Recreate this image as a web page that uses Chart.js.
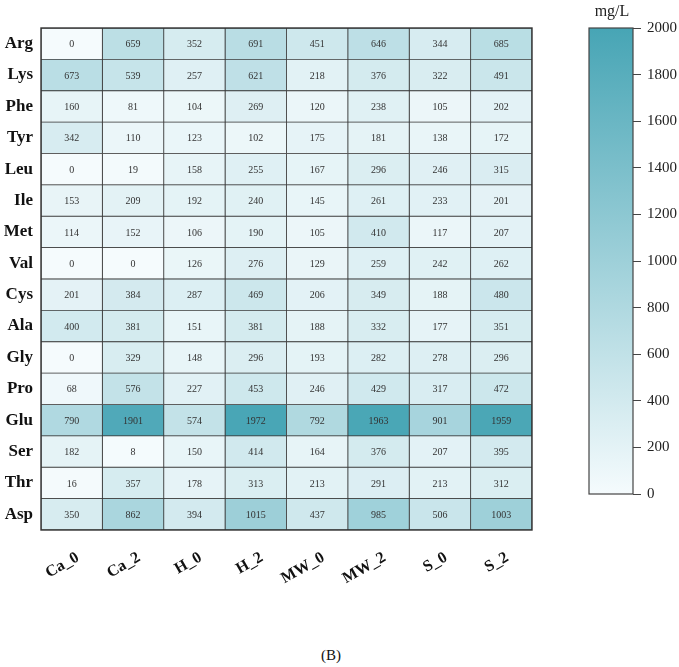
<!DOCTYPE html>
<html>
<head>
<meta charset="utf-8">
<script src="https://cdn.jsdelivr.net/npm/chart.js@4"></script>
<style>
  body { margin: 0; background: #fff; width: 679px; height: 667px; position: relative; overflow: hidden; }
  #heat { position: absolute; left: 0; top: 0; }
  #bar { position: absolute; left: 560px; top: 0; }
  .caption { position: absolute; top: 647px; left: 301px; width: 60px; text-align: center;
    font-family: "Liberation Serif", "DejaVu Serif", serif; font-size: 15px; color: #111; }
</style>
</head>
<body>
<canvas id="heat" width="560" height="600"></canvas>
<canvas id="bar" width="119" height="520"></canvas>
<div class="caption">(B)</div>
<script>
const samples = ["Ca_0", "Ca_2", "H_0", "H_2", "MW_0", "MW_2", "S_0", "S_2"];
const aminoAcids = ["Arg", "Lys", "Phe", "Tyr", "Leu", "Ile", "Met", "Val",
  "Cys", "Ala", "Gly", "Pro", "Glu", "Ser", "Thr", "Asp"];

// one array per sample, in aminoAcids order
const Ca_0 = [0, 673, 160, 342, 0, 153, 114, 0, 201, 400, 0, 68, 790, 182, 16, 350];
const Ca_2 = [659, 539, 81, 110, 19, 209, 152, 0, 384, 381, 329, 576, 1901, 8, 357, 862];
const H_0 = [352, 257, 104, 123, 158, 192, 106, 126, 287, 151, 148, 227, 574, 150, 178, 394];
const H_2 = [691, 621, 269, 102, 255, 240, 190, 276, 469, 381, 296, 453, 1972, 414, 313, 1015];
const MW_0 = [451, 218, 120, 175, 167, 145, 105, 129, 206, 188, 193, 246, 792, 164, 213, 437];
const MW_2 = [646, 376, 238, 181, 296, 261, 410, 259, 349, 332, 282, 429, 1963, 376, 291, 985];
const S_0 = [344, 322, 105, 138, 246, 233, 117, 242, 188, 177, 278, 317, 901, 207, 213, 506];
const S_2 = [685, 491, 202, 172, 315, 201, 207, 262, 480, 351, 296, 472, 1959, 395, 312, 1003];

const columns = [Ca_0, Ca_2, H_0, H_2, MW_0, MW_2, S_0, S_2];
const scaleMin = 0;
const scaleMax = 2000;
const colorbarTicks = [0, 200, 400, 600, 800, 1000, 1200, 1400, 1600, 1800, 2000];

const lowColor = [245, 251, 253];
const highColor = [71, 165, 181];

function colorFor(v) {
  let t = (v - scaleMin) / (scaleMax - scaleMin);
  t = Math.max(0, Math.min(1, t));
  let c = lowColor.map((lo, i) => Math.round(lo + (highColor[i] - lo) * t));
  return `rgb(${c[0]},${c[1]},${c[2]})`;
}

const serif = "'Liberation Serif', 'DejaVu Serif', serif";

// Heatmap: floating horizontal bars, one dataset per sample column
const datasets = columns.map((col, i) => ({
  label: samples[i],
  data: col.map(() => [i, i + 1]),
  values: col,
  backgroundColor: col.map(colorFor),
  borderColor: "#3a3a3a",
  borderWidth: 0.8,
  borderSkipped: false,
  grouped: false,
  barPercentage: 1,
  categoryPercentage: 1
}));

const cellText = {
  id: "cellText",
  afterDatasetsDraw(chart) {
    const ctx = chart.ctx;
    ctx.save();
    ctx.font = "10px " + serif;
    ctx.fillStyle = "#333";
    ctx.textAlign = "center";
    ctx.textBaseline = "middle";
    chart.data.datasets.forEach((ds, di) => {
      chart.getDatasetMeta(di).data.forEach((bar, j) => {
        ctx.fillText(ds.values[j], (bar.x + bar.base) / 2, bar.y + 1);
      });
    });
    const a = chart.chartArea;
    ctx.strokeStyle = "#333";
    ctx.lineWidth = 1.4;
    ctx.strokeRect(a.left, a.top, a.right - a.left, a.bottom - a.top);
    ctx.restore();
  }
};

new Chart(document.getElementById("heat"), {
  type: "bar",
  data: { labels: aminoAcids, datasets: datasets },
  options: {
    indexAxis: "y",
    responsive: false,
    animation: false,
    layout: { padding: { left: 0, right: 28, top: 28, bottom: 0 } },
    plugins: { legend: { display: false }, tooltip: { enabled: false } },
    scales: {
      x: {
        type: "linear",
        min: 0,
        max: samples.length,
        grid: { display: false, drawTicks: false },
        border: { display: false },
        // labels sit a little right of the column centre, as in the source figure
        afterBuildTicks(scale) {
          scale.ticks = samples.map((s, i) => ({ value: i + 0.6 }));
        },
        afterFit(scale) { scale.height = 70; },
        ticks: {
          autoSkip: false,
          minRotation: 30,
          maxRotation: 30,
          padding: 18,
          color: "#111",
          font: { family: serif, size: 16, weight: "bold" },
          callback: (v) => samples[Math.floor(v)]
        }
      },
      y: {
        grid: { display: false, drawTicks: false },
        border: { display: false },
        afterFit(scale) { scale.width = 41; },
        ticks: {
          padding: 8,
          color: "#111",
          font: { family: serif, size: 17, weight: "bold" }
        }
      }
    }
  },
  plugins: [cellText]
});

// Colorbar: one floating bar filled with the gradient
const colorbarFrame = {
  id: "colorbarFrame",
  beforeDatasetsDraw(chart) {
    const a = chart.chartArea;
    const g = chart.ctx.createLinearGradient(0, a.bottom, 0, a.top);
    g.addColorStop(0, colorFor(scaleMin));
    g.addColorStop(1, colorFor(scaleMax));
    chart.getDatasetMeta(0).data[0].options.backgroundColor = g;
  },
  afterDatasetsDraw(chart) {
    const a = chart.chartArea;
    const ctx = chart.ctx;
    ctx.save();
    ctx.strokeStyle = "#444";
    ctx.lineWidth = 1.2;
    ctx.strokeRect(a.left, a.top, a.right - a.left, a.bottom - a.top);
    ctx.font = "16px " + serif;
    ctx.fillStyle = "#222";
    ctx.textAlign = "center";
    ctx.textBaseline = "bottom";
    ctx.fillText("mg/L", (a.left + a.right) / 2 + 1, a.top - 8);
    ctx.restore();
  }
};

new Chart(document.getElementById("bar"), {
  type: "bar",
  data: {
    labels: ["mg/L"],
    datasets: [{ data: [[scaleMin, scaleMax]], backgroundColor: "#ccc",
      barPercentage: 1, categoryPercentage: 1, borderWidth: 0 }]
  },
  options: {
    responsive: false,
    animation: false,
    layout: { padding: { left: 29, right: 0, top: 28, bottom: 26 } },
    plugins: { legend: { display: false }, tooltip: { enabled: false } },
    scales: {
      x: { display: false },
      y: {
        position: "right",
        min: scaleMin,
        max: scaleMax,
        afterBuildTicks(scale) {
          scale.ticks = colorbarTicks.map(v => ({ value: v }));
        },
        afterFit(scale) { scale.width = 46; },
        grid: { drawOnChartArea: false, tickLength: 8, color: "#444", tickColor: "#444" },
        border: { display: false },
        ticks: {
          padding: 6,
          color: "#222",
          font: { family: serif, size: 15 },
          callback: (v) => String(v)
        }
      }
    }
  },
  plugins: [colorbarFrame]
});
</script>
</body>
</html>
